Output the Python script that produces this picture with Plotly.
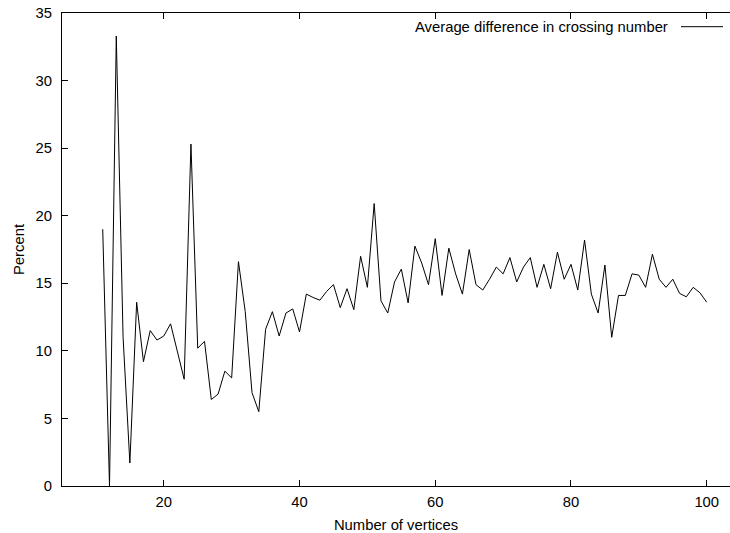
import plotly.graph_objects as go

vertices = [11, 12, 13, 14, 15, 16, 17, 18, 19, 20,
            21, 22, 23, 24, 25, 26, 27, 28, 29, 30,
            31, 32, 33, 34, 35, 36, 37, 38, 39, 40,
            41, 42, 43, 44, 45, 46, 47, 48, 49, 50,
            51, 52, 53, 54, 55, 56, 57, 58, 59, 60,
            61, 62, 63, 64, 65, 66, 67, 68, 69, 70,
            71, 72, 73, 74, 75, 76, 77, 78, 79, 80,
            81, 82, 83, 84, 85, 86, 87, 88, 89, 90,
            91, 92, 93, 94, 95, 96, 97, 98, 99, 100]

avg_diff = [19.0, 0.0, 33.3, 11.0, 1.7, 13.6, 9.2, 11.5, 10.8, 11.1,
            12.0, 9.9, 7.9, 25.3, 10.2, 10.7, 6.4, 6.8, 8.5, 8.0,
            16.6, 12.9, 6.9, 5.5, 11.6, 12.9, 11.1, 12.8, 13.1, 11.4,
            14.2, 13.95, 13.75, 14.4, 14.9, 13.2, 14.6, 13.05, 17.0, 14.7,
            20.9, 13.7, 12.8, 15.1, 16.05, 13.55, 17.75, 16.5, 14.9, 18.3,
            14.1, 17.6, 15.7, 14.2, 17.5, 14.9, 14.5, 15.3, 16.2, 15.7,
            16.9, 15.1, 16.2, 16.9, 14.7, 16.4, 14.6, 17.3, 15.3, 16.4,
            14.5, 18.2, 14.2, 12.8, 16.35, 11.0, 14.1, 14.1, 15.7, 15.6,
            14.7, 17.15, 15.3, 14.7, 15.3, 14.25, 14.0, 14.7, 14.3, 13.6]

x_ticks = [20, 40, 60, 80, 100]
y_ticks = [0, 5, 10, 15, 20, 25, 30, 35]
series_name = "Average difference in crossing number"

W, H = 730, 533
ML, MR, MT, MB = 62, 0, 13, 47
PW, PH = W - ML - MR, H - MT - MB

def px(xp):
    return (xp - ML) / PW

def py(yp):
    return (H - MB - yp) / PH

FONT = "Liberation Sans, Arial, Helvetica, sans-serif"
FS = 14.8

fig = go.Figure()
fig.add_trace(go.Scatter(
    x=vertices, y=avg_diff, mode="lines",
    line=dict(color="black", width=1),
    name=series_name, showlegend=False,
))

fig.update_layout(
    width=W, height=H, autosize=False,
    margin=dict(l=ML, r=MR, t=MT, b=MB, pad=0),
    paper_bgcolor="white", plot_bgcolor="white",
    font=dict(family=FONT, size=FS, color="black"),
    showlegend=False,
)

fig.update_xaxes(
    range=[5, 103.43], tickvals=x_ticks, ticktext=[str(v) for v in x_ticks],
    ticks="inside", ticklen=6, tickwidth=1, tickcolor="black",
    showline=True, linecolor="black", linewidth=1, mirror="ticks",
    showgrid=False, zeroline=False,
    title=dict(text="Number of vertices", standoff=10, font=dict(size=FS)),
    tickfont=dict(size=FS), ticklabelstandoff=2,
)
fig.update_yaxes(
    range=[0, 35], tickvals=y_ticks, ticktext=[str(v) for v in y_ticks],
    ticks="inside", ticklen=6, tickwidth=1, tickcolor="black",
    showline=True, linecolor="black", linewidth=1, mirror=False,
    showgrid=False, zeroline=False,
    title=dict(text="Percent", standoff=7, font=dict(size=FS)),
    tickfont=dict(size=FS), ticklabelstandoff=6,
)

# gnuplot-style key: text on the left, line sample on the right
fig.add_annotation(
    xref="paper", yref="paper", x=px(670), y=py(27),
    xanchor="right", yanchor="middle", showarrow=False,
    text=series_name, font=dict(size=FS, color="black"),
)
fig.add_shape(
    type="line", xref="paper", yref="paper",
    x0=px(681), x1=px(723), y0=py(26.7), y1=py(26.7),
    line=dict(color="black", width=1),
)

fig.write_html(
    "out.html",
    config={"displayModeBar": False},
    post_script="document.body.style.margin='0';document.body.style.padding='0';",
)
